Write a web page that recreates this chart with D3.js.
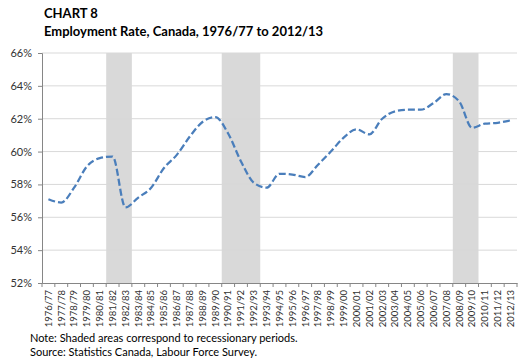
<!DOCTYPE html>
<html>
<head>
<meta charset="utf-8">
<script src="https://cdn.jsdelivr.net/npm/d3@7"></script>
<style>
  body { margin: 0; background: #fff; }
  svg text { font-family: Lato, "Open Sans", sans-serif; }
</style>
</head>
<body>
<svg id="chart" width="523" height="360"></svg>
<script>
// fiscal years
var years = ["1976/77","1977/78","1978/79","1979/80","1980/81","1981/82","1982/83","1983/84",
    "1984/85","1985/86","1986/87","1987/88","1988/89","1989/90","1990/91","1991/92","1992/93",
    "1993/94","1994/95","1995/96","1996/97","1997/98","1998/99","1999/00","2000/01","2001/02",
    "2002/03","2003/04","2004/05","2005/06","2006/07","2007/08","2008/09","2009/10","2010/11",
    "2011/12","2012/13"];

// employment rate, %
var rate = [57.1, 56.9, 57.8, 59.1, 59.6, 59.7, 56.6, 57.2, 57.8, 59.0, 59.8, 60.9, 61.8, 62.1,
    61.1, 59.4, 58.1, 57.8, 58.65, 58.6, 58.45, 59.2, 60.0, 60.85, 61.35, 61.05, 62.0, 62.45,
    62.55, 62.55, 62.95, 63.5, 63.05, 61.45, 61.7, 61.75, 61.9];

// recession periods (first and last fiscal year shaded)
var recessions = [["1981/82", "1982/83"], ["1990/91", "1992/93"], ["2008/09", "2009/10"]];

var yTicks = [52, 54, 56, 58, 60, 62, 64, 66];

var svg = d3.select("#chart");
var margin = { top: 53, right: 6, bottom: 77, left: 42 };
var width = 523 - margin.left - margin.right;
var height = 360 - margin.top - margin.bottom;

var g = svg.append("g").attr("transform", "translate(" + margin.left + "," + margin.top + ")");

var x = d3.scaleBand().domain(years).range([0, width]);
var y = d3.scaleLinear().domain([52, 66]).range([height, 0]);

// shaded recessions
g.selectAll(".rec")
    .data(recessions)
    .enter().append("rect")
    .attr("class", "rec")
    .attr("x", function (d) { return x(d[0]); })
    .attr("width", function (d) { return x(d[1]) + x.bandwidth() - x(d[0]); })
    .attr("y", 0)
    .attr("height", height)
    .style("fill", "#d9d9d9");

// gridlines
g.selectAll(".grid")
    .data(yTicks.slice(1))
    .enter().append("line")
    .attr("class", "grid")
    .attr("x1", 0).attr("x2", width)
    .attr("y1", function (d) { return y(d); })
    .attr("y2", function (d) { return y(d); })
    .style("stroke", "#d9d9d9")
    .style("stroke-width", 1);

// y axis
var yAxis = g.append("g")
    .call(d3.axisLeft(y).tickValues(yTicks).tickSize(4).tickPadding(6)
        .tickFormat(function (d) { return d + "%"; }));
yAxis.select(".domain").style("stroke", "#868686");
yAxis.selectAll(".tick line").style("stroke", "#868686");
yAxis.selectAll("text").style("font-size", "11px").style("fill", "#333");

// x axis, ticks between categories
var xAxis = g.append("g")
    .attr("transform", "translate(0," + height + ")")
    .call(d3.axisBottom(x).tickSize(0).tickSizeOuter(0));
xAxis.select(".domain").style("stroke", "#868686");
xAxis.selectAll(".tick text")
    .attr("transform", "rotate(-90)")
    .attr("text-anchor", "end")
    .attr("x", -7)
    .attr("y", 0)
    .attr("dy", "0.35em")
    .style("font-size", "9.5px")
    .style("fill", "#333");

g.selectAll(".xtick")
    .data(years.concat(["end"]))
    .enter().append("line")
    .attr("class", "xtick")
    .attr("x1", function (d, i) { return i * x.step(); })
    .attr("x2", function (d, i) { return i * x.step(); })
    .attr("y1", height).attr("y2", height + 4)
    .style("stroke", "#868686");

// the line
var line = d3.line()
    .x(function (d, i) { return x(years[i]) + x.bandwidth() / 2; })
    .y(function (d) { return y(d); })
    .curve(d3.curveMonotoneX);

g.append("path")
    .datum(rate)
    .attr("d", line)
    .style("fill", "none")
    .style("stroke", "#4a7ebb")
    .style("stroke-width", 2.25)
    .style("stroke-dasharray", "7,3");

// titles
svg.append("text").attr("x", 44).attr("y", 18)
    .style("font-size", "13px").style("font-weight", "bold").style("fill", "#000")
    .text("CHART 8");
svg.append("text").attr("x", 44).attr("y", 36)
    .style("font-size", "13px").style("font-weight", "bold").style("fill", "#000")
    .text("Employment Rate, Canada, 1976/77 to 2012/13");

// notes
svg.append("text").attr("x", 30).attr("y", 342)
    .style("font-size", "11px").style("fill", "#000")
    .text("Note: Shaded areas correspond to recessionary periods.");
svg.append("text").attr("x", 30).attr("y", 356)
    .style("font-size", "11px").style("fill", "#000")
    .text("Source: Statistics Canada, Labour Force Survey.");
</script>
</body>
</html>
